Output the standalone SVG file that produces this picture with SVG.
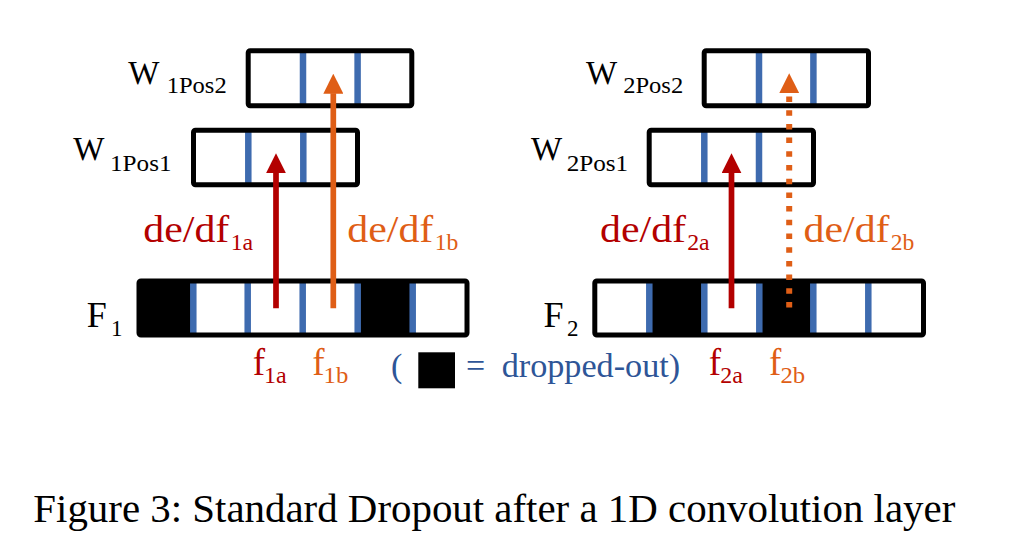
<svg xmlns="http://www.w3.org/2000/svg" width="1010" height="560" viewBox="0 0 1010 560">
<style>
  text { font-family: "Liberation Serif", "LiberationSerif", "Tinos", "DejaVu Serif", "Noto Serif", "Times New Roman", Times, serif; }
  .bg { fill: #ffffff; stroke: none; }
  .border { fill: none; stroke: #000000; stroke-width: 5; }
  .drop { fill: #000000; }
  .sep { stroke: #3E6BAF; stroke-width: 6.5; }
  .lbl { fill: #000000; }
  .red { fill: #B30000; }
  .org { fill: #DF5E16; }
  .leg { fill: #2E5597; }
  .arr-red { stroke: #B30000; stroke-width: 5.7; fill: none; }
  .arr-org { stroke: #DF5E16; stroke-width: 5.7; fill: none; }
  .arr-dot { stroke: #DF5E16; stroke-width: 6; fill: none; stroke-dasharray: 5.5 8.2; }
</style>
<defs>
  <marker id="headRed" viewBox="0 0 20 20" markerWidth="20" markerHeight="20" markerUnits="userSpaceOnUse" refX="0.5" refY="10" orient="auto">
    <path d="M0,0 L20,10 L0,20 Z" fill="#B30000"/>
  </marker>
  <marker id="headOrg" viewBox="0 0 20 20" markerWidth="20" markerHeight="20" markerUnits="userSpaceOnUse" refX="0.5" refY="10" orient="auto">
    <path d="M0,0 L20,10 L0,20 Z" fill="#DF5E16"/>
  </marker>
</defs>
<rect width="1010" height="560" fill="#ffffff"/>

<!-- Left: W1Pos2 -->
<g id="W1Pos2">
  <rect class="bg" x="248.2" y="50.8" width="163.6" height="55" rx="2"/>
  <line class="sep" x1="303" y1="51" x2="303" y2="106"/>
  <line class="sep" x1="357.6" y1="51" x2="357.6" y2="106"/>
  <rect class="border" x="248.2" y="50.8" width="163.6" height="55" rx="2"/>
  <text class="lbl" x="128.3" y="84" font-size="33">W</text>
  <text class="lbl" x="166.7" y="93.3" font-size="23" textLength="60" lengthAdjust="spacingAndGlyphs">1Pos2</text>
</g>

<!-- Left: W1Pos1 -->
<g id="W1Pos1">
  <rect class="bg" x="193.5" y="130.2" width="164" height="54.6" rx="2"/>
  <line class="sep" x1="248.3" y1="130" x2="248.3" y2="185"/>
  <line class="sep" x1="303.3" y1="130" x2="303.3" y2="185"/>
  <rect class="border" x="193.5" y="130.2" width="164" height="54.6" rx="2"/>
  <text class="lbl" x="73.3" y="160" font-size="33">W</text>
  <text class="lbl" x="110" y="171" font-size="23" textLength="61.5" lengthAdjust="spacingAndGlyphs">1Pos1</text>
</g>

<!-- Left: F1 -->
<g id="F1">
  <rect class="bg" x="139" y="281" width="328" height="54" rx="2"/>
  <rect class="drop" x="139" y="281" width="54.3" height="54"/>
  <rect class="drop" x="357.7" y="281" width="55" height="54"/>
  <line class="sep" x1="193.3" y1="281" x2="193.3" y2="335"/>
  <line class="sep" x1="247.7" y1="281" x2="247.7" y2="335"/>
  <line class="sep" x1="302.7" y1="281" x2="302.7" y2="335"/>
  <line class="sep" x1="357.7" y1="281" x2="357.7" y2="335"/>
  <line class="sep" x1="412.7" y1="281" x2="412.7" y2="335"/>
  <rect class="border" x="139" y="281" width="328" height="54" rx="2"/>
  <text class="lbl" x="86.7" y="326.7" font-size="36">F</text>
  <text class="lbl" x="111" y="335.5" font-size="23">1</text>
  <text class="red" x="252.7" y="375" font-size="37">f</text>
  <text class="red" x="264" y="382.7" font-size="24" textLength="22.7" lengthAdjust="spacingAndGlyphs">1a</text>
  <text class="org" x="312.3" y="375" font-size="37">f</text>
  <text class="org" x="323.6" y="382.7" font-size="24" textLength="24.7" lengthAdjust="spacingAndGlyphs">1b</text>
</g>

<!-- Right: W2Pos2 -->
<g id="W2Pos2">
  <rect class="bg" x="704.2" y="50.8" width="164.3" height="55" rx="2"/>
  <line class="sep" x1="759" y1="51" x2="759" y2="106"/>
  <line class="sep" x1="813.4" y1="51" x2="813.4" y2="106"/>
  <rect class="border" x="704.2" y="50.8" width="164.3" height="55" rx="2"/>
  <text class="lbl" x="586" y="84" font-size="33">W</text>
  <text class="lbl" x="623.2" y="93.3" font-size="23" textLength="60" lengthAdjust="spacingAndGlyphs">2Pos2</text>
</g>

<!-- Right: W2Pos1 -->
<g id="W2Pos1">
  <rect class="bg" x="649.2" y="130.2" width="164.3" height="54.6" rx="2"/>
  <line class="sep" x1="704.3" y1="130" x2="704.3" y2="185"/>
  <line class="sep" x1="759" y1="130" x2="759" y2="185"/>
  <rect class="border" x="649.2" y="130.2" width="164.3" height="54.6" rx="2"/>
  <text class="lbl" x="531" y="160" font-size="33">W</text>
  <text class="lbl" x="566.7" y="171" font-size="23" textLength="61.5" lengthAdjust="spacingAndGlyphs">2Pos1</text>
</g>

<!-- Right: F2 -->
<g id="F2">
  <rect class="bg" x="594.8" y="281" width="328.7" height="54" rx="2"/>
  <rect class="drop" x="649.3" y="281" width="55" height="54"/>
  <rect class="drop" x="759.3" y="281" width="54" height="54"/>
  <line class="sep" x1="649.3" y1="281" x2="649.3" y2="335"/>
  <line class="sep" x1="704.3" y1="281" x2="704.3" y2="335"/>
  <line class="sep" x1="759.3" y1="281" x2="759.3" y2="335"/>
  <line class="sep" x1="813.3" y1="281" x2="813.3" y2="335"/>
  <line class="sep" x1="868.3" y1="281" x2="868.3" y2="335"/>
  <rect class="border" x="594.8" y="281" width="328.7" height="54" rx="2"/>
  <text class="lbl" x="543.5" y="326.7" font-size="36">F</text>
  <text class="lbl" x="567" y="335.5" font-size="23">2</text>
  <text class="red" x="708.8" y="375" font-size="37">f</text>
  <text class="red" x="720.3" y="382.7" font-size="24" textLength="22.7" lengthAdjust="spacingAndGlyphs">2a</text>
  <text class="org" x="769" y="375" font-size="37">f</text>
  <text class="org" x="780.4" y="382.7" font-size="24" textLength="24.7" lengthAdjust="spacingAndGlyphs">2b</text>
</g>

<!-- Legend -->
<g id="legend">
  <text class="leg" x="391" y="377" font-size="34">(</text>
  <rect class="drop" x="418.3" y="352.3" width="36.7" height="36"/>
  <text class="leg" x="466" y="377" font-size="34">=</text>
  <text class="leg" x="501.7" y="377" font-size="34" textLength="178.5" lengthAdjust="spacingAndGlyphs">dropped-out)</text>
</g>

<!-- Connectors -->
<g id="connectors">
  <line class="arr-red" x1="276" y1="308.3" x2="276" y2="172.8" marker-end="url(#headRed)"/>
  <line class="arr-org" x1="333.3" y1="308.3" x2="333.3" y2="93.2" marker-end="url(#headOrg)"/>
  <line class="arr-red" x1="731.5" y1="308.3" x2="731.5" y2="172.8" marker-end="url(#headRed)"/>
  <line class="arr-dot" x1="789.2" y1="307.5" x2="789.2" y2="92.7" marker-end="url(#headOrg)"/>
  <text class="red" x="143.3" y="241.7" font-size="37" textLength="86" lengthAdjust="spacingAndGlyphs">de/df</text>
  <text class="red" x="230.7" y="249.5" font-size="24" textLength="22.5" lengthAdjust="spacingAndGlyphs">1a</text>
  <text class="org" x="347.3" y="241.7" font-size="37" textLength="86" lengthAdjust="spacingAndGlyphs">de/df</text>
  <text class="org" x="434.7" y="249.5" font-size="24" textLength="23.6" lengthAdjust="spacingAndGlyphs">1b</text>
  <text class="red" x="600" y="241.7" font-size="37" textLength="86" lengthAdjust="spacingAndGlyphs">de/df</text>
  <text class="red" x="687.2" y="249.5" font-size="24" textLength="22.5" lengthAdjust="spacingAndGlyphs">2a</text>
  <text class="org" x="803.5" y="241.7" font-size="37" textLength="86" lengthAdjust="spacingAndGlyphs">de/df</text>
  <text class="org" x="890.7" y="249.5" font-size="24" textLength="23.6" lengthAdjust="spacingAndGlyphs">2b</text>
</g>

<!-- Caption -->
<text class="lbl" x="33.3" y="521.7" font-size="40" textLength="922" lengthAdjust="spacingAndGlyphs">Figure 3: Standard Dropout after a 1D convolution layer</text>
</svg>
